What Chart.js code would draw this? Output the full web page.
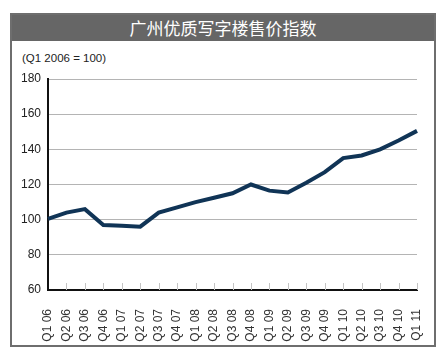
<!DOCTYPE html>
<html>
<head>
<meta charset="utf-8">
<script src="https://cdn.jsdelivr.net/npm/chart.js@4/dist/chart.umd.min.js"></script>
<style>
  html, body { margin: 0; padding: 0; background: #ffffff; }
  #wrap { position: relative; width: 444px; height: 355px; overflow: hidden; }
  #frame { position: absolute; left: 10px; top: 13px; width: 422px; height: 330px; border: 2px solid #6e6e6e; background: #fff; }
  #titlebar { position: absolute; left: 0; top: 0; width: 100%; height: 26px; background: #666666; color: #fff;
    font-family: "Noto Sans CJK SC", sans-serif; font-size: 17px; line-height: 26px; text-align: center; }
  #subtitle { position: absolute; left: 22px; top: 52px; font-family: "Liberation Sans", Arial, sans-serif; font-size: 11.5px; color: #222; }
  #chart { position: absolute; left: 0; top: 0; }
</style>
</head>
<body>
<div id="wrap">
  <div id="frame"><div id="titlebar">广州优质写字楼售价指数</div></div>
  <div id="subtitle">(Q1 2006 = 100)</div>
  <canvas id="chart" width="444" height="355"></canvas>
</div>
<script>
const categories = ["Q1 06","Q2 06","Q3 06","Q4 06","Q1 07","Q2 07","Q3 07","Q4 07","Q1 08","Q2 08","Q3 08","Q4 08","Q1 09","Q2 09","Q3 09","Q4 09","Q1 10","Q2 10","Q3 10","Q4 10","Q1 11"];
const priceIndex = [100.5,104,106,97,96.5,96,104,107,110,112.5,115,120,116.5,115.5,121,127,135,136.5,140,145,150.5];
const yMin = 60, yMax = 180, yStep = 20;

const innerTicks = {
  id: 'innerTicks',
  beforeDatasetsDraw(chart) {
    const x = chart.scales.x, ctx = chart.ctx, b = chart.chartArea.bottom;
    ctx.save();
    ctx.strokeStyle = '#c4c4c4';
    ctx.lineWidth = 1;
    for (let i = 1; i < x.ticks.length; i++) {
      const px = Math.round(x.getPixelForTick(i)) + 0.5;
      ctx.beginPath(); ctx.moveTo(px, b - 7); ctx.lineTo(px, b); ctx.stroke();
    }
    ctx.restore();
  }
};

new Chart(document.getElementById('chart'), {
  type: 'line',
  data: {
    labels: categories,
    datasets: [{
      data: priceIndex,
      borderColor: '#103456',
      borderWidth: 4,
      pointRadius: 0,
      tension: 0,
      fill: false
    }]
  },
  options: {
    responsive: false,
    animation: false,
    layout: { padding: { top: 79, right: 27, bottom: 0, left: 0 } },
    plugins: { legend: { display: false }, tooltip: { enabled: false }, title: { display: false } },
    scales: {
      x: {
        type: 'category',
        offset: false,
        afterFit(s) { s.height = 65; },
        grid: { display: false },
        border: { display: true, color: '#111', width: 2 },
        ticks: {
          autoSkip: false, minRotation: 90, maxRotation: 90, padding: 11,
          color: '#333', font: { family: '"Liberation Sans", Arial, sans-serif', size: 12 }
        }
      },
      y: {
        min: yMin, max: yMax,
        afterFit(s) { s.width = 48; },
        grid: { color: '#b4b4b4', lineWidth: 1, drawTicks: false },
        border: { display: true, color: '#111', width: 2 },
        ticks: {
          stepSize: yStep, padding: 7,
          color: '#222', font: { family: '"Liberation Sans", Arial, sans-serif', size: 12 }
        }
      }
    }
  },
  plugins: [innerTicks]
});
</script>
</body>
</html>
